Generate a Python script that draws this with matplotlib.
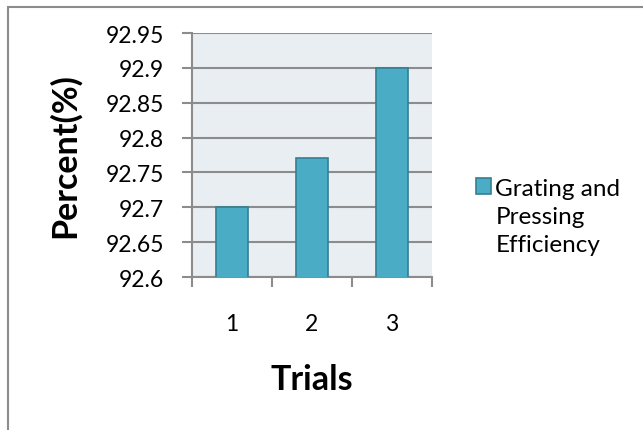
import matplotlib
matplotlib.use("Agg")
import matplotlib.pyplot as plt
from matplotlib.patches import Rectangle

trials = ["1", "2", "3"]
efficiency = [92.7, 92.77, 92.9]
series_name = "Grating and\nPressing\nEfficiency"
y_ticks = [92.6, 92.65, 92.7, 92.75, 92.8, 92.85, 92.9, 92.95]
y_tick_labels = ["92.6", "92.65", "92.7", "92.75", "92.8", "92.85", "92.9", "92.95"]

plt.rcParams['font.family'] = ['Lato', 'DejaVu Sans']

bar_color = '#4BACC6'
edge_color = '#357F93'
grid_color = '#8C8C8C'

fig = plt.figure(figsize=(6.43, 4.31), dpi=100)
fig.patch.set_facecolor('white')

## outer chart border (only left/top visible)
fig.patches.append(Rectangle((8 / 643, -0.1), 2.0, (431 - 8) / 431 + 0.1,
                             transform=fig.transFigure, fill=False,
                             edgecolor='#8C8C8C', linewidth=1.5))

ax = fig.add_axes([192 / 643, (431 - 278) / 431, 240 / 643, 244 / 431])
ax.set_facecolor('#E8EEF2')

x = list(range(len(trials)))
ax.bar(x, efficiency, width=0.41, color=bar_color, edgecolor=edge_color,
       linewidth=1.2, label=series_name, zorder=3)

ax.set_xlim(-0.5, len(trials) - 0.5)
ax.set_ylim(92.6, 92.95)

ax.set_yticks(y_ticks)
ax.set_yticklabels(y_tick_labels)
ax.yaxis.grid(True, color=grid_color, linewidth=1.5)
ax.set_axisbelow(True)

## category ticks at boundaries, labels centered
ax.set_xticks([i - 0.5 for i in range(len(trials) + 1)])
ax.set_xticklabels([])
ax.set_xticks(x, minor=True)
ax.set_xticklabels(trials, minor=True)
ax.tick_params(axis='x', which='major', direction='out', length=7, width=1.5, color=grid_color)
ax.tick_params(axis='x', which='minor', length=0, pad=26, labelsize=16.5)
ax.tick_params(axis='y', direction='out', length=7, width=1.5, color=grid_color, pad=13, labelsize=16.5)

for side in ['top', 'right']:
    ax.spines[side].set_visible(False)
for side in ['left', 'bottom']:
    ax.spines[side].set_color(grid_color)
    ax.spines[side].set_linewidth(1.5)

ax.set_ylabel("Percent(%)", fontsize=24.5, fontweight='bold', va='center')
ax.yaxis.set_label_coords(-0.53, 0.5)
ax.set_xlabel("Trials", fontsize=24.5, fontweight='bold', va='center')
ax.xaxis.set_label_coords(0.5, -0.42)

leg = ax.legend(loc='upper left', bbox_to_anchor=(1.183, 0.405), frameon=False,
                fontsize=17.5, handlelength=0.6, handleheight=0.6, handletextpad=0.2,
                borderpad=0, borderaxespad=0)
for t in leg.get_texts():
    t.set_linespacing(1.4)
## marker next to the first line, like the original
for col in leg._legend_handle_box.get_children():
    for row in col.get_children():
        row.align = 'top'

fig.savefig("out.png", dpi=100)
